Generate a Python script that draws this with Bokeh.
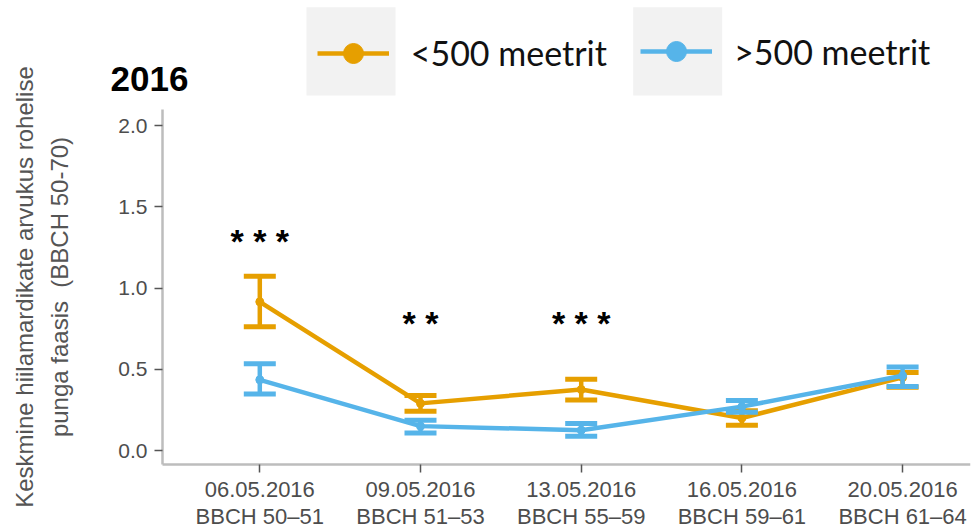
from bokeh.plotting import figure
from bokeh.models import (ColumnDataSource, FixedTicker, Range1d, Label, Legend,
                          LegendItem, BoxAnnotation, PrintfTickFormatter)
from bokeh.core.properties import value
from bokeh.embed import file_html
from bokeh.resources import INLINE

# ---- data ----
dates = ["06.05.2016", "09.05.2016", "13.05.2016", "16.05.2016", "20.05.2016"]
stages = ["BBCH 50\u201351", "BBCH 51\u201353", "BBCH 55\u201359", "BBCH 59\u201361", "BBCH 61\u201364"]
positions = [1, 2, 3, 4, 5]

near_mean = [0.915, 0.29, 0.375, 0.20, 0.45]
near_lower = [0.762, 0.242, 0.311, 0.155, 0.39]
near_upper = [1.073, 0.338, 0.439, 0.245, 0.48]

far_mean = [0.435, 0.15, 0.125, 0.27, 0.46]
far_lower = [0.348, 0.108, 0.087, 0.235, 0.394]
far_upper = [0.534, 0.186, 0.166, 0.307, 0.514]

sig_pos = [1, 2, 3]
sig_height = [1.316, 0.81, 0.81]
sig_marks = ["* * *", "* *", "* * *"]

series_names = ["<500 meetrit", ">500 meetrit"]
series_colors = ["#E69F00", "#56B4E9"]
y_ticks = [0, 0.5, 1.0, 1.5, 2.0]
title_text = "2016"
y_label = "Keskmine hiilamardikate arvukus rohelise\npunga faasis\u00a0 (BBCH 50-70)"

# ---- layout constants (pixels) ----
AX_FONT = "Liberation Sans"
W, H = 975, 529
PX_PER_X = 160.7
PX_PER_Y = 162.5
X1_PX = 259.3          # pixel of category 1
Y0_PX = 450.0          # pixel of value 0
AXIS_LEFT_PX = 162.0   # y-axis line
AXIS_BOTTOM_PX = 464.0 # x-axis line
AXIS_TOP_PX = 109.0
RIGHT_PX = 970.0


def px_x(px):
    return 1 + (px - X1_PX) / PX_PER_X


def px_y(py):
    return (Y0_PX - py) / PX_PER_Y


x_start, x_end = px_x(0), px_x(RIGHT_PX)
y_start, y_end = px_y(H), px_y(0)

p = figure(width=W, height=H, output_backend="svg", toolbar_location=None,
           x_range=Range1d(x_start, x_end), y_range=Range1d(y_start, y_end),
           min_border_left=0, min_border_right=int(W - RIGHT_PX), min_border_top=0,
           min_border_bottom=0)
p.outline_line_color = None
p.xgrid.visible = False
p.ygrid.visible = False

for ax in (p.xaxis[0], p.yaxis[0]):
    ax.axis_line_color = "#BDBDBD"
    ax.axis_line_width = 2.5
    ax.major_tick_line_color = "#555555"
    ax.major_tick_line_width = 1.5
    ax.major_tick_out = 8
    ax.major_tick_in = 0
    ax.minor_tick_line_color = None
    ax.major_label_text_color = "#4D4D4D"
    ax.major_label_text_font = AX_FONT

p.xaxis.ticker = FixedTicker(ticks=positions)
p.xaxis.major_label_overrides = {pos: f"{d}\n{s}" for pos, d, s in zip(positions, dates, stages)}
p.xaxis.major_label_text_font_size = "22px"
p.xaxis.major_label_text_line_height = 1.1
p.xaxis.major_label_standoff = 4
p.xaxis.fixed_location = px_y(AXIS_BOTTOM_PX)
p.xaxis.bounds = (px_x(AXIS_LEFT_PX), x_end)

p.yaxis.ticker = FixedTicker(ticks=y_ticks)
p.yaxis.formatter = PrintfTickFormatter(format="%.1f")
p.yaxis.major_label_text_font_size = "21px"
p.yaxis.major_label_standoff = 7
p.yaxis.axis_label = y_label
p.yaxis.axis_label_text_font = AX_FONT
p.yaxis.axis_label_text_font_size = "24px"
p.yaxis.axis_label_text_font_style = "normal"
p.yaxis.axis_label_text_color = "#555555"
p.yaxis.axis_label_text_line_height = 1.3
p.yaxis.axis_label_standoff = 42
p.yaxis.fixed_location = px_x(AXIS_LEFT_PX)
p.yaxis.bounds = (px_y(AXIS_BOTTOM_PX), px_y(AXIS_TOP_PX))

# legend key backgrounds
for l_px, r_px in [(306, 395), (632.7, 721.7)]:
    p.add_layout(BoxAnnotation(left=px_x(l_px), right=px_x(r_px),
                               top=px_y(6.7), bottom=px_y(95),
                               fill_color="#F2F2F2", fill_alpha=1.0,
                               line_color=None, level="underlay"))

series = [
    (near_mean, near_lower, near_upper),
    (far_mean, far_lower, far_upper),
]
legend_left_px = [316.7, 640]
legend_label_h = [30, 54]
legend_bottom_px = [77.7, 78.2]
for (mean, lo, hi), name, col, lx, lh, lb in zip(series, series_names, series_colors,
                                                legend_left_px, legend_label_h,
                                                legend_bottom_px):
    src = ColumnDataSource(dict(x=positions, mean=mean, lower=lo, upper=hi))
    ln = p.line("x", "mean", source=src, line_color=col, line_width=4.5)
    p.segment(x0="x", y0="lower", x1="x", y1="upper", source=src,
              line_color=col, line_width=4.5)
    p.scatter("x", "lower", source=src, marker="dash", size=32,
              line_color=col, line_width=5)
    p.scatter("x", "upper", source=src, marker="dash", size=32,
              line_color=col, line_width=5)
    dots = p.scatter("x", "mean", source=src, size=8, color=col)

    leg = Legend(items=[LegendItem(label=name, renderers=[ln, dots])],
                 location=(lx, H - lb), orientation="horizontal",
                 glyph_width=72, glyph_height=50, label_height=lh,
                 label_standoff=22, label_text_font="Lato",
                 label_text_font_size="34px", label_text_color="#111111",
                 padding=0, spacing=0, margin=0,
                 border_line_color=None, background_fill_alpha=0)
    p.add_layout(leg)

sig_src = ColumnDataSource(dict(x=sig_pos, y=sig_height, t=sig_marks))
p.text(x="x", y="y", text="t", source=sig_src, text_font=value(AX_FONT),
       text_font_size=value("34px"), text_font_style="bold", text_color="black",
       text_align="center", text_baseline="middle", y_offset=4)

p.add_layout(Label(x=px_x(110), y=px_y(78.5), text=title_text, text_font=AX_FONT,
                   text_font_size="35px", text_font_style="bold",
                   text_color="black", text_baseline="alphabetic"))

open("out.html", "w").write(file_html(p, INLINE))
